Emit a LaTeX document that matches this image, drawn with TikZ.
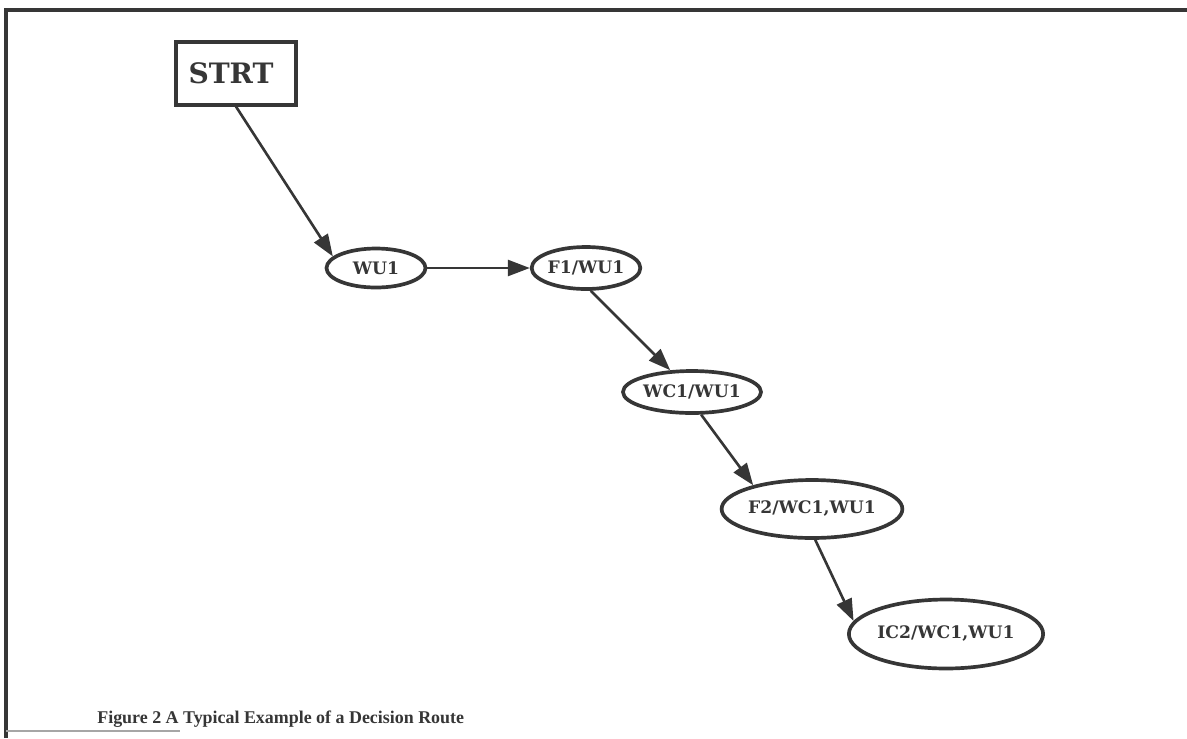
\documentclass[tikz,border=0pt]{standalone}
\usepackage{fontspec}
\setmainfont{DejaVu Serif}
\newfontfamily\capfont{Liberation Serif}
\usetikzlibrary{shapes.geometric,arrows.meta}
\definecolor{ink}{HTML}{363636}
\tikzset{
  lbl/.style={ellipse, draw=ink, line width=2.1pt, text=ink, inner sep=0pt,
    font=\fontsize{9.8}{10}\selectfont\bfseries},
  arr/.style={draw=ink, line width=1.5pt, -{Triangle[length=0.44cm,width=0.32cm]}},
  frame/.style={draw=ink, line width=2.2pt},
}
\begin{document}
\begin{tikzpicture}[x=0.02cm,y=-0.02cm]
\useasboundingbox (0,0) rectangle (1187,738);
% frame
\draw[frame] (6,738) -- (6,10) -- (1187,10);
\draw[draw=gray!70, line width=0.9pt] (6,731) -- (180,731);
% nodes
\node[draw=ink, line width=1.8pt, minimum width=2.4cm, minimum height=1.26cm,
  text width=1.9cm, align=left, inner xsep=0.2cm, text=ink,
  font=\fontsize{16}{17}\selectfont\bfseries] (strt) at (236,73.5) {STRT};
\node[lbl, minimum width=1.98cm, minimum height=0.78cm] (wu1) at (376,268) {WU1};
\node[lbl, minimum width=2.04cm, minimum height=0.84cm] (f1) at (586,268) {F1/WU1};
\node[lbl, minimum width=2.1cm, minimum height=0.84cm] (wc1) at (692,392) {WC1/WU1};
\node[lbl, minimum width=3.5cm, minimum height=1.16cm] (f2) at (812,509) {F2/WC1,WU1};
\node[lbl, minimum width=3.3cm, minimum height=1.38cm] (ic2) at (946,634) {IC2/WC1,WU1};
% connectors
\draw[arr] (strt.south) -- (wu1.165);
\draw[arr] (wu1.east) -- (f1.west);
\draw[arr] (f1.-78) -- (wc1.135);
\draw[arr] (wc1.-68) -- (f2.158);
\draw[arr] (f2.-84) -- (ic2.172);
% caption
\node[anchor=base west, inner sep=0pt, text=ink,
  font=\capfont\fontsize{10.2}{11}\selectfont\bfseries] (cap) at (97,723)
  {Figure 2 A Typical Example of a Decision Route};
\end{tikzpicture}
\end{document}
